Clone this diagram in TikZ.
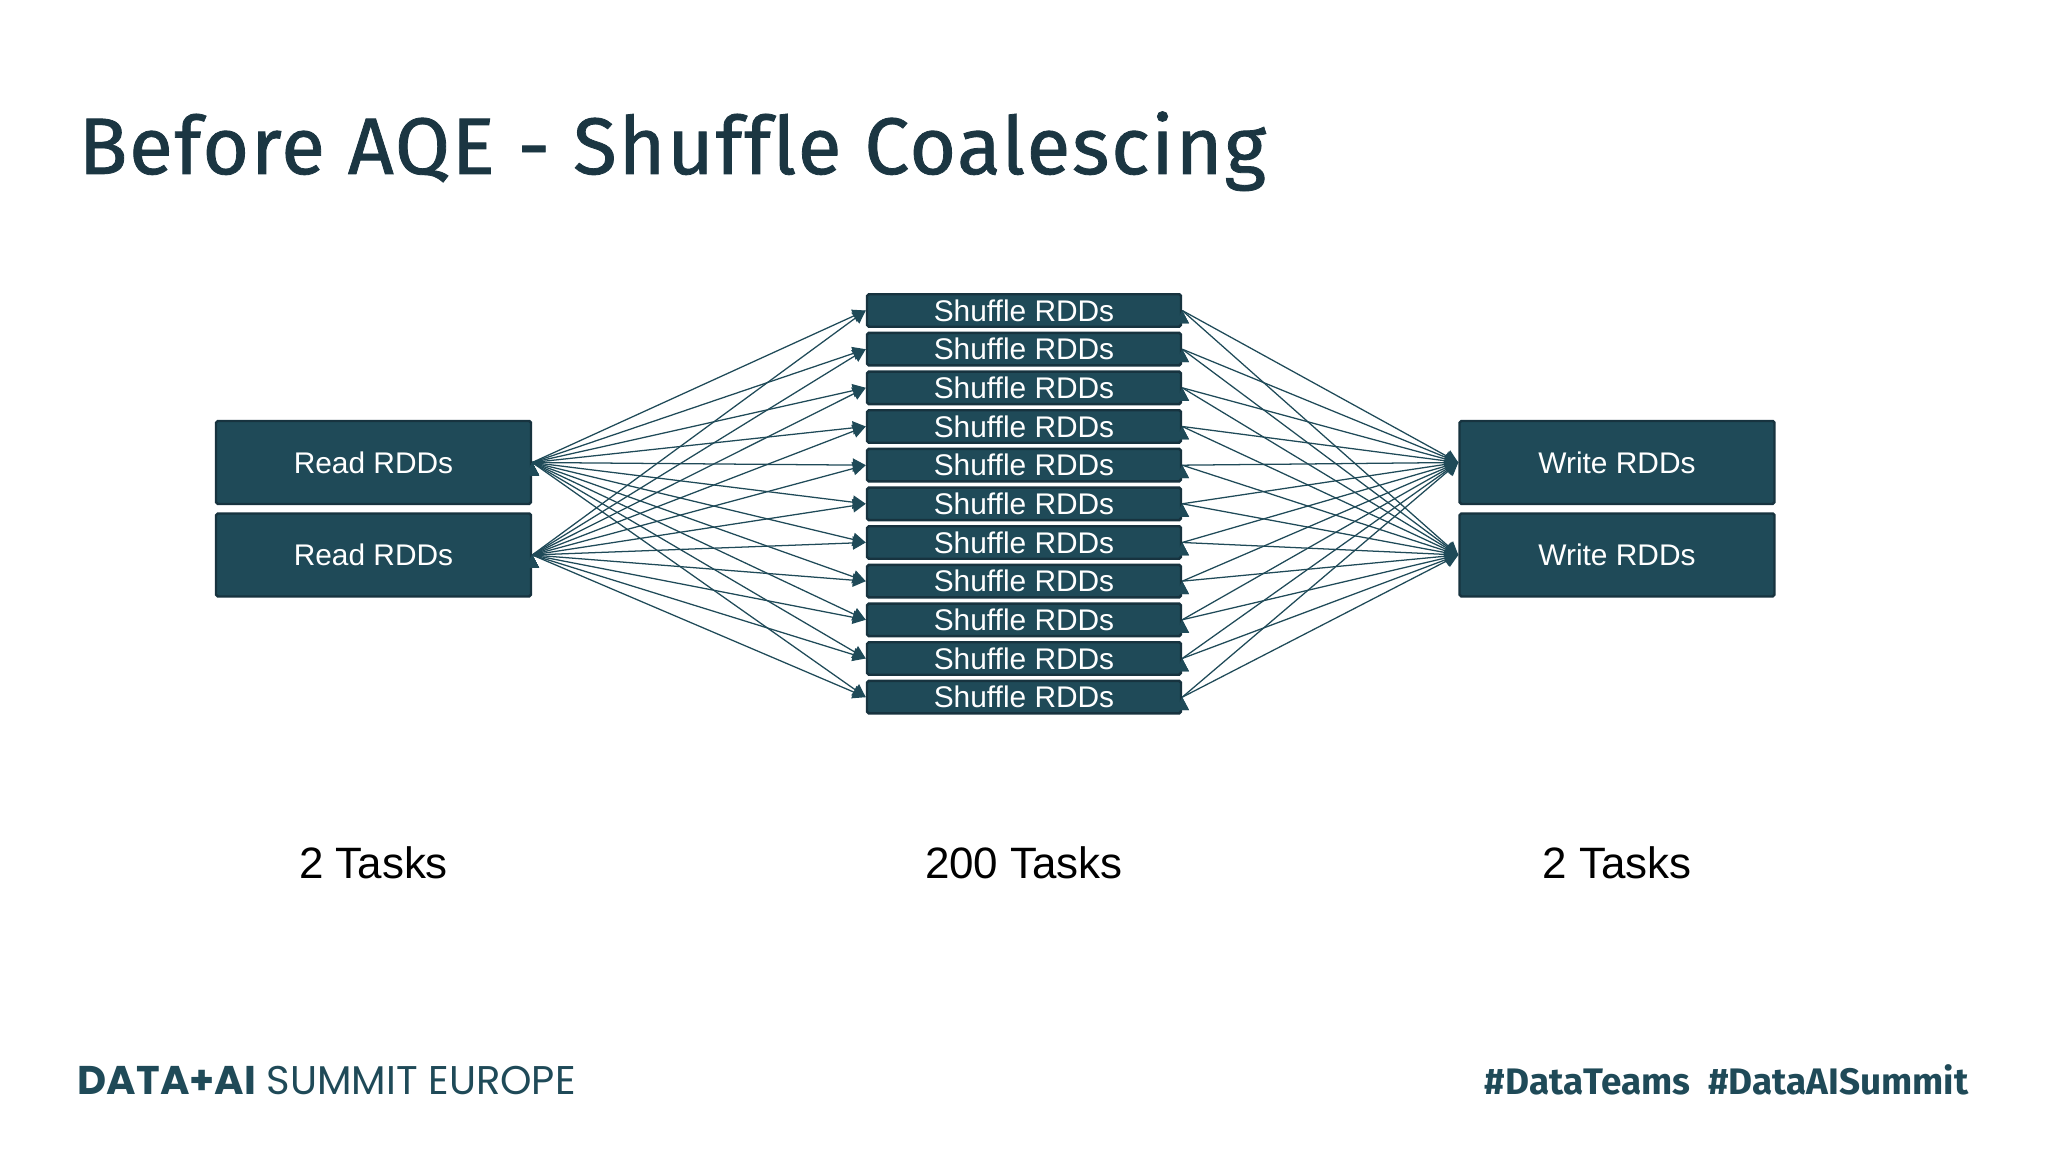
\documentclass[tikz,border=0pt]{standalone}
\usepackage{fontspec}
\setmainfont{Liberation Sans}
\newfontfamily\titlefont[Ligatures=NoCommon,LetterSpace=2.2,FakeBold=1]{Fira Sans}
\newfontfamily\hashfont{Fira Sans}
\newfontfamily\logofont{Poppins}
\usetikzlibrary{arrows.meta}
\definecolor{rddblue}{HTML}{1F4A58}
\definecolor{rddedge}{HTML}{17333F}
\definecolor{titleink}{HTML}{1B3642}
\tikzset{
  rdd/.style={shape=rectangle, rounded corners=0.5pt, draw=rddedge, fill=rddblue, line width=0.7pt, text=white, inner sep=0pt, font=\fontsize{8.5}{10}\selectfont},
  bigrdd/.style={rdd, minimum width=3.15cm, minimum height=0.83cm},
  smallrdd/.style={rdd, minimum width=3.14cm, minimum height=0.325cm},
  flow/.style={-{Triangle[length=3.7pt,width=3.8pt,color=rddblue]}, line width=0.36pt, draw=rddblue},
  count/.style={font=\fontsize{12.5}{14}\selectfont, text=black},
}
\begin{document}
\begin{tikzpicture}
\useasboundingbox (0,0) rectangle (20.48,11.52);
\node[anchor=base west, inner sep=0pt, text=titleink, font=\titlefont\fontsize{22.8}{26}\selectfont] (title) at (0.78,9.78) {Before AQE - Shuffle Coalescing};
\node[bigrdd] (r1) at (3.735,6.895) {Read RDDs};
\node[bigrdd] (r2) at (3.735,5.97) {Read RDDs};
\node[bigrdd] (w1) at (16.17,6.895) {Write RDDs};
\node[bigrdd] (w2) at (16.17,5.97) {Write RDDs};
\node[smallrdd] (s1) at (10.24,8.415) {Shuffle RDDs};
\node[smallrdd] (s2) at (10.24,8.028) {Shuffle RDDs};
\node[smallrdd] (s3) at (10.24,7.642) {Shuffle RDDs};
\node[smallrdd] (s4) at (10.24,7.255) {Shuffle RDDs};
\node[smallrdd] (s5) at (10.24,6.868) {Shuffle RDDs};
\node[smallrdd] (s6) at (10.24,6.482) {Shuffle RDDs};
\node[smallrdd] (s7) at (10.24,6.095) {Shuffle RDDs};
\node[smallrdd] (s8) at (10.24,5.708) {Shuffle RDDs};
\node[smallrdd] (s9) at (10.24,5.322) {Shuffle RDDs};
\node[smallrdd] (s10) at (10.24,4.935) {Shuffle RDDs};
\node[smallrdd] (s11) at (10.24,4.548) {Shuffle RDDs};
\node[count] (c1) at (3.735,2.89) {2 Tasks};
\node[count] (c2) at (10.24,2.89) {200 Tasks};
\node[count] (c3) at (16.17,2.89) {2 Tasks};
\node[anchor=base west, inner sep=0pt, text=rddblue, font=\logofont\fontsize{11.4}{13}\selectfont] (logo) at (0.77,0.57) {\textbf{DATA+AI} SUMMIT EUROPE};
\node[anchor=base east, inner sep=0pt, text=rddblue, font=\hashfont\bfseries\fontsize{10.5}{12}\selectfont] (tags) at (19.69,0.57) {\#DataTeams\ \ \#DataAISummit};
\path [flow] (r1.east) edge (s1.west);
\path [flow] (r1.east) edge (s2.west);
\path [flow] (r1.east) edge (s3.west);
\path [flow] (r1.east) edge (s4.west);
\path [flow] (r1.east) edge (s5.west);
\path [flow] (r1.east) edge (s6.west);
\path [flow] (r1.east) edge (s7.west);
\path [flow] (r1.east) edge (s8.west);
\path [flow] (r1.east) edge (s9.west);
\path [flow] (r1.east) edge (s10.west);
\path [flow] (r1.east) edge (s11.west);
\path [flow] (r2.east) edge (s1.west);
\path [flow] (r2.east) edge (s2.west);
\path [flow] (r2.east) edge (s3.west);
\path [flow] (r2.east) edge (s4.west);
\path [flow] (r2.east) edge (s5.west);
\path [flow] (r2.east) edge (s6.west);
\path [flow] (r2.east) edge (s7.west);
\path [flow] (r2.east) edge (s8.west);
\path [flow] (r2.east) edge (s9.west);
\path [flow] (r2.east) edge (s10.west);
\path [flow] (r2.east) edge (s11.west);
\path [flow] (s1.east) edge (w1.west);
\path [flow] (s2.east) edge (w1.west);
\path [flow] (s3.east) edge (w1.west);
\path [flow] (s4.east) edge (w1.west);
\path [flow] (s5.east) edge (w1.west);
\path [flow] (s6.east) edge (w1.west);
\path [flow] (s7.east) edge (w1.west);
\path [flow] (s8.east) edge (w1.west);
\path [flow] (s9.east) edge (w1.west);
\path [flow] (s10.east) edge (w1.west);
\path [flow] (s11.east) edge (w1.west);
\path [flow] (s1.east) edge (w2.west);
\path [flow] (s2.east) edge (w2.west);
\path [flow] (s3.east) edge (w2.west);
\path [flow] (s4.east) edge (w2.west);
\path [flow] (s5.east) edge (w2.west);
\path [flow] (s6.east) edge (w2.west);
\path [flow] (s7.east) edge (w2.west);
\path [flow] (s8.east) edge (w2.west);
\path [flow] (s9.east) edge (w2.west);
\path [flow] (s10.east) edge (w2.west);
\path [flow] (s11.east) edge (w2.west);
\end{tikzpicture}
\end{document}
